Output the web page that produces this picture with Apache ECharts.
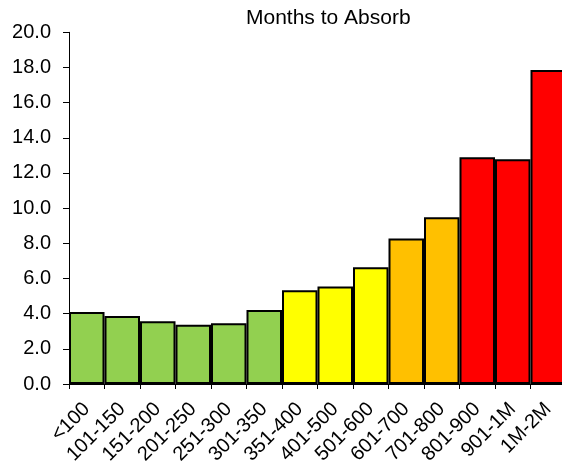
<!DOCTYPE html>
<html>
<head>
<meta charset="utf-8">
<script src="https://cdn.jsdelivr.net/npm/echarts@6/dist/echarts.min.js"></script>
<style>
  html, body { margin: 0; padding: 0; background: #fff; }
  #chart { width: 562px; height: 465px; }
</style>
</head>
<body>
<div id="chart"></div>
<script>
// Price bands and months of inventory needed to absorb each band
const categories = ['<100', '101-150', '151-200', '201-250', '251-300', '301-350', '351-400',
  '401-500', '501-600', '601-700', '701-800', '801-900', '901-1M', '1M-2M'];
const months = [4.1, 3.87, 3.57, 3.37, 3.45, 4.21, 5.33, 5.54, 6.64, 8.27, 9.48, 12.89, 12.78, 17.86];
const yTicks = { min: 0, max: 20, step: 2 };

// Fill colour depends on how many months the band takes to absorb
function bandColor(v) {
  if (v >= 12) return '#FF0000';
  if (v >= 8) return '#FFC000';
  if (v >= 5) return '#FFFF00';
  return '#92D050';
}

const font = '"Liberation Sans", Arial, sans-serif';
const chart = echarts.init(document.getElementById('chart'), null, { renderer: 'canvas' });

chart.setOption({
  animation: false,
  backgroundColor: '#ffffff',
  title: {
    text: 'Months to Absorb',
    left: 241,
    top: 3,
    textStyle: { fontFamily: font, fontSize: 21, fontWeight: 'normal', color: '#000' }
  },
  grid: {
    left: 69, top: 32.3, width: 497, bottom: 81,
    containLabel: false,
    outerBoundsMode: 'none'
  },
  xAxis: {
    type: 'category',
    data: categories,
    axisLine: { lineStyle: { color: '#000', width: 1 } },
    axisTick: { show: true, length: 5, lineStyle: { color: '#000' } },
    axisLabel: {
      rotate: 45,
      interval: 0,
      margin: 22,
      fontFamily: font,
      fontSize: 20,
      color: '#000'
    }
  },
  yAxis: {
    type: 'value',
    min: yTicks.min,
    max: yTicks.max,
    interval: yTicks.step,
    splitLine: { show: false },
    axisLine: { show: true, lineStyle: { color: '#000', width: 1 } },
    axisTick: { show: true, length: 6, lineStyle: { color: '#000' } },
    axisLabel: {
      margin: 18,
      fontFamily: font,
      fontSize: 20,
      color: '#000',
      formatter: v => v.toFixed(1)
    }
  },
  series: [{
    type: 'bar',
    barCategoryGap: '0%',
    data: months.map(v => ({
      value: v,
      itemStyle: { color: bandColor(v), borderColor: '#000', borderWidth: 2, borderRadius: 0 }
    }))
  }]
});
</script>
</body>
</html>
